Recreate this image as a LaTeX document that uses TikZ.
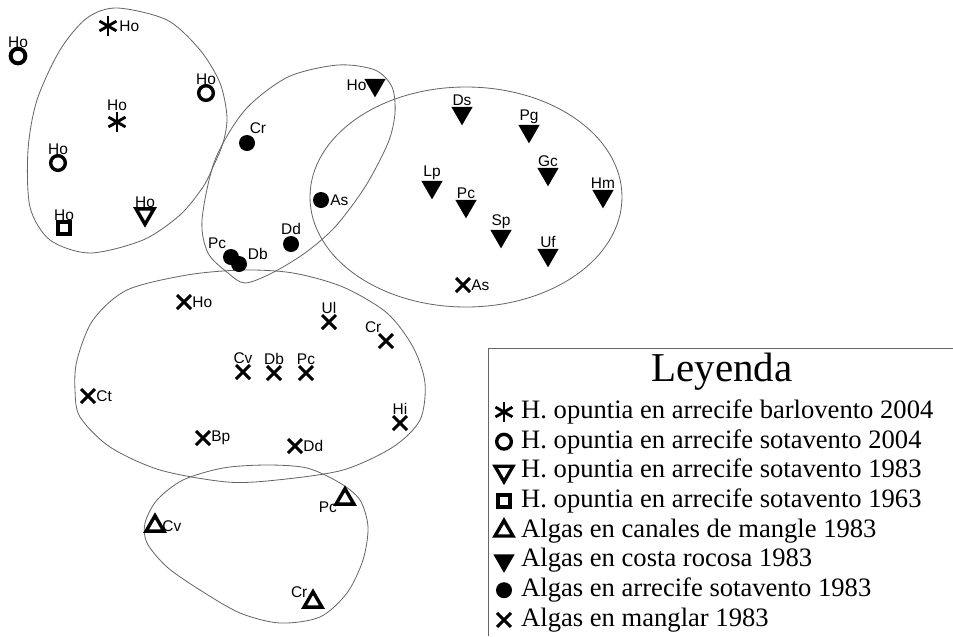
\documentclass[tikz,border=0pt]{standalone}
\usepackage{fontspec}
\setmainfont{Liberation Serif}
\newfontfamily\labfont{Liberation Sans}
\usetikzlibrary{shapes.geometric,shapes.misc}

\tikzset{
  lab/.style={font=\labfont\fontsize{13.2}{14}\selectfont, inner sep=1pt},
  leg/.style={font=\fontsize{22.7}{26}\selectfont, inner sep=0pt, anchor=west},
  mk/.style={inner sep=0pt, outer sep=0pt, line width=2.9pt,
    label distance=3pt},
  ring/.style={mk, circle, draw, minimum size=0.44cm},
  dotm/.style={mk, circle, fill, minimum size=0.48cm},
  boxm/.style={mk, rectangle, draw, minimum size=0.36cm},
  trido/.style={mk, regular polygon, regular polygon sides=3,
    shape border rotate=180, draw, minimum size=0.62cm},
  tridf/.style={mk, regular polygon, regular polygon sides=3,
    shape border rotate=180, fill, minimum size=0.74cm},
  triup/.style={mk, regular polygon, regular polygon sides=3, draw,
    minimum size=0.62cm},
  xm/.style={mk, cross out, draw, minimum size=0.42cm, line width=2.6pt},
  astm/.style={mk, circle, minimum size=0.6cm, path picture={
    \foreach \a in {90,30,150}
      \draw[line width=2.4pt] (path picture bounding box.center)
        ++(\a:0.3cm) -- ++(\a+180:0.6cm);}},
  far/.style={label distance=5pt},
  blob/.style={draw=black!60, line width=0.7pt},
}

\begin{document}
\begin{tikzpicture}[x=0.03cm, y=-0.03cm]
\useasboundingbox (0,0) rectangle (953,636);
% Group outlines.
\draw[blob] plot[smooth cycle] coordinates {(117,8) (167,20) (200,50)
  (220,83) (227,117) (223,143) (213,167) (203,187) (180,215) (143,240)
  (90,253) (50,240) (30,207) (28,150) (37,100) (60,50) (87,18)};
\draw[blob] plot[smooth cycle] coordinates {(202,220) (215,160) (245,110)
  (288,77) (338,65) (375,70) (392,87) (395,113) (388,143) (365,187)
  (335,227) (305,253) (272,273) (245,283) (228,273) (208,253)};
\draw[blob] (466,197) ellipse [x radius=156, y radius=110];
\draw[blob] plot[smooth cycle] coordinates {(127,290) (93,320) (77,360)
  (75,390) (80,417) (110,447) (160,470) (227,482) (277,480) (343,470)
  (393,447) (420,420) (425,383) (413,347) (387,313) (343,287) (293,273)
  (243,270) (187,275)};
\draw[blob] plot[smooth cycle] coordinates {(267,465) (307,468) (340,483)
  (360,500) (368,527) (363,560) (347,593) (320,617) (280,623) (240,613)
  (200,590) (167,567) (147,543) (145,523) (157,500) (183,480) (223,468)};
% H. opuntia.
\node[ring, line width=3.4pt, label={[lab]above:Ho}] (ho1) at (18,56) {};
\node[astm, label={[lab]right:Ho}] (ho2) at (108,26) {};
\node[ring, label={[lab]above:Ho}] (ho3) at (206,93) {};
\node[astm, label={[lab]above:Ho}] (ho4) at (117,122) {};
\node[ring, label={[lab]above:Ho}] (ho5) at (58,163) {};
\node[boxm, label={[lab]above:Ho}] (ho6) at (64,228) {};
\node[trido, label={[lab]above:Ho}] (ho7) at (145,214) {};
% Algas en costa rocosa.
\node[tridf, label={[lab]left:Ho}] (cr1) at (375,85) {};
\node[tridf, label={[lab]above:Ds}] (cr2) at (462,113) {};
\node[tridf, label={[lab]above:Pg}] (cr3) at (529,131) {};
\node[tridf, label={[lab]above:Gc}] (cr4) at (548,174) {};
\node[tridf, label={[lab]above:Hm}] (cr5) at (603,196) {};
\node[tridf, label={[lab]above:Lp}] (cr6) at (432,187) {};
\node[tridf, label={[lab]above:Pc}] (cr7) at (466,206) {};
\node[tridf, label={[lab]above:Sp}] (cr8) at (501,236) {};
\node[tridf, label={[lab]above:Uf}] (cr9) at (548,255) {};
% Algas en arrecife sotavento.
\node[dotm, label={[lab]80:Cr}] (as1) at (247,143) {};
\node[dotm, label={[lab]right:As}] (as2) at (321,200) {};
\node[dotm, label={[lab]above:Dd}] (as3) at (291,244) {};
\node[dotm, label={[lab]115:Pc}] (as4) at (231,257) {};
\node[dotm, label={[lab]20:Db}] (as5) at (239,264) {};
% Algas en manglar.
\node[xm, label={[lab]right:As}] (mg1) at (463,285) {};
\node[xm, far, label={[lab]right:Ho}] (mg2) at (184,302) {};
\node[xm, label={[lab]above:Ul}] (mg3) at (329,322) {};
\node[xm, label={[lab]115:Cr}] (mg4) at (386,341) {};
\node[xm, label={[lab]above:Cv}] (mg5) at (243,372) {};
\node[xm, label={[lab]above:Db}] (mg6) at (274,373) {};
\node[xm, label={[lab]above:Pc}] (mg7) at (306,373) {};
\node[xm, far, label={[lab]right:Ct}] (mg8) at (88,396) {};
\node[xm, label={[lab]above:Hi}] (mg9) at (400,423) {};
\node[xm, far, label={[lab]right:Bp}] (mg10) at (203,438) {};
\node[xm, far, label={[lab]right:Dd}] (mg11) at (295,446) {};
% Algas en canales de mangle.
\node[triup, label={[lab]190:Pc}] (cm1) at (345,499) {};
\node[triup, far, label={[lab]right:Cv}] (cm2) at (155,526) {};
\node[triup, label={[lab]145:Cr}] (cm3) at (313,602) {};
% Legend.
\draw[draw=black!60, line width=0.8pt] (953,348) -- (488,348) -- (488,636);
\node[font=\fontsize{35}{40}\selectfont] (ttl) at (722,372) {Leyenda};
\foreach \s/\t [count=\i] in {astm/H. opuntia en arrecife barlovento 2004,
    ring/H. opuntia en arrecife sotavento 2004,
    trido/H. opuntia en arrecife sotavento 1983,
    boxm/H. opuntia en arrecife sotavento 1963,
    triup/Algas en canales de mangle 1983,
    tridf/Algas en costa rocosa 1983,
    dotm/Algas en arrecife sotavento 1983,
    xm/Algas en manglar 1983} {
  \node[\s] (k\i) at (504, {412+(\i-1)*29.7}) {};
  \node[leg] (t\i) at (521, {412+(\i-1)*29.7}) {\t};
}
\end{tikzpicture}
\end{document}
